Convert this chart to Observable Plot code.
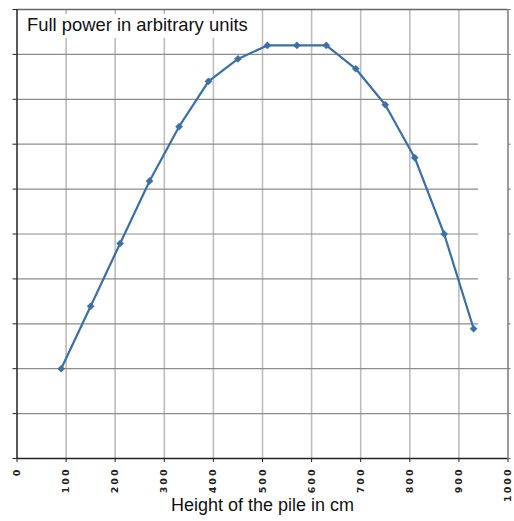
<!DOCTYPE html>
<html>
<head>
<meta charset="utf-8">
<script src="https://cdn.jsdelivr.net/npm/d3@7"></script>
<script src="https://cdn.jsdelivr.net/npm/@observablehq/plot@0.6"></script>
<style>
  html, body { margin: 0; padding: 0; background: #fff; }
  #wrap { position: relative; width: 514px; height: 521px; }
  #title {
    position: absolute; left: 22px; top: 14px; padding: 1px 5px 3px 5px;
    background: #fff; font-family: "Liberation Sans", Arial, sans-serif;
    font-size: 18.4px; color: #111; line-height: 20px; white-space: nowrap;
  }
  svg [aria-label="x-axis tick label"] text {
    font-family: "DejaVu Sans", sans-serif; font-size: 9.5px; font-weight: bold; letter-spacing: 2px; fill: #222;
  }
  svg [aria-label="x-axis label"] text {
    font-family: "Liberation Sans", Arial, sans-serif; font-size: 18px; fill: #111;
  }
</style>
</head>
<body>
<div id="wrap"><div id="title">Full power in arbitrary units</div></div>
<script>
const heights = [90, 150, 210, 270, 330, 390, 450, 510, 570, 630, 690, 750, 810, 870, 930];
const power   = [2.0, 3.39, 4.79, 6.18, 7.39, 8.40, 8.90, 9.20, 9.20, 9.20, 8.68, 7.88, 6.70, 5.00, 2.89];
const xTicks = [0, 100, 200, 300, 400, 500, 600, 700, 800, 900, 1000];
const yTicks = [0, 1, 2, 3, 4, 5, 6, 7, 8, 9, 10];
// horizontal grid lines that stop short of the right border (legend area)
const shortGrid = [3, 4, 5, 6, 7];
const shortGridEnd = 940;

const data = heights.map((h, i) => ({h, p: power[i]}));
const hGrid = yTicks.slice(1, 10).map(v => ({v, x2: shortGrid.includes(v) ? shortGridEnd : 1000}));

const chart = Plot.plot({
  width: 514,
  height: 521,
  marginLeft: 16.5,
  marginRight: 6.5,
  marginTop: 9,
  marginBottom: 63,
  style: {background: "#fff", overflow: "visible"},
  x: {type: "linear", domain: [0, 1000]},
  y: {type: "linear", domain: [0, 10]},
  marks: [
    Plot.ruleX(xTicks.slice(1, 10), {stroke: "#bdbdbd", strokeWidth: 1.6}),
    Plot.ruleY(hGrid, {y: "v", x1: 0, x2: "x2", stroke: "#8c8c8c", strokeWidth: 1.2}),
    Plot.ruleY([10], {stroke: "#666", strokeWidth: 1.3}),
    Plot.ruleX([1000], {stroke: "#666", strokeWidth: 1.3}),
    Plot.axisY({anchor: "right", ticks: yTicks, tickSize: 2, tickFormat: () => "", label: null, stroke: "#666"}),
    Plot.ruleY([0], {stroke: "#222", strokeWidth: 1.5}),
    Plot.ruleX([0], {stroke: "#222", strokeWidth: 1.5}),
    Plot.axisY({anchor: "left", ticks: yTicks, tickSize: 4, tickFormat: () => "", label: null, stroke: "#222"}),
    Plot.axisX({
      ticks: xTicks, tickSize: 4, tickRotate: -90, tickPadding: 5, tickFormat: d => String(d),
      label: "Height of the pile in cm", labelAnchor: "center", labelArrow: "none", labelOffset: 52,
      stroke: "#222"
    }),
    Plot.line(data, {x: "h", y: "p", stroke: "#3a6fa8", strokeWidth: 2.2}),
    Plot.dot(data, {x: "h", y: "p", symbol: "diamond2", r: 3.2, fill: "#3a6fa8", stroke: "#3a6fa8", strokeWidth: 0.5})
  ]
});
document.getElementById("wrap").prepend(chart);
</script>
</body>
</html>
